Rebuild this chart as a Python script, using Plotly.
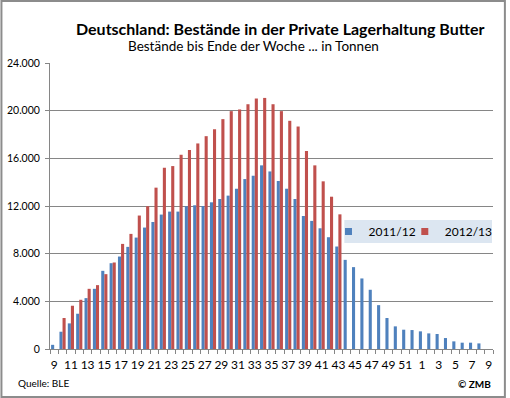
import plotly.graph_objects as go

weeks = [9, 10, 11, 12, 13, 14, 15, 16, 17, 18, 19, 20, 21, 22, 23, 24, 25, 26, 27, 28,
         29, 30, 31, 32, 33, 34, 35, 36, 37, 38, 39, 40, 41, 42, 43, 44, 45, 46, 47, 48,
         49, 50, 51, 52, 1, 2, 3, 4, 5, 6, 7, 8, 9]

s2011 = [350, 1450, 2150, 2960, 4270, 5050, 6560, 7200, 7760, 8570, 9350, 10190, 10660,
         11280, 11530, 11530, 11980, 12060, 12000, 12310, 12590, 12870, 13450, 14260,
         14540, 15410, 14900, 14100, 13450, 12590, 11160, 10750, 10130, 9380, 8600,
         7480, 6870, 5920, 4970, 3680, 2600, 1900, 1620, 1590, 1480, 1310, 1260, 920,
         640, 530, 530, 470, None]

s2012 = [None, 2600, 3630, 4130, 5050, 5360, 6280, 7260, 8820, 9660, 11200, 11980, 13540,
         15210, 15350, 16300, 16690, 17250, 17860, 18450, 19290, 19960, 20100, 20540,
         21020, 21070, 20540, 19960, 19150, 18670, 16610, 15410, 14070, 12780, 11300] + [None] * 18

series_names = ["2011/12", "2012/13"]
series_colors = ["#4F81BD", "#C0504D"]
yticks = [0, 4000, 8000, 12000, 16000, 20000, 24000]
ytick_text = ["0", "4.000", "8.000", "12.000", "16.000", "20.000", "24.000"]

idx = list(range(len(weeks)))
font = "Lato, 'Open Sans', sans-serif"

W, H = 510, 398
ML, MR, MT, MB = 50, 13, 63, 49
pw = W - ML - MR
ph = H - MT - MB


def px(x):
    return (x - ML) / pw


def py(y):
    return (H - MB - y) / ph


fig = go.Figure()
for vals, name, col in zip([s2011, s2012], series_names, series_colors):
    fig.add_trace(go.Bar(x=idx, y=vals, name=name, marker_color=col,
                         marker_line_width=0, showlegend=False))
# legend-only entries with small square symbols, one legend per entry
legend_ids = ["legend", "legend2"]
for name, col, lid in zip(series_names, series_colors, legend_ids):
    fig.add_trace(go.Scatter(x=[None], y=[None], mode="markers", name=name,
                             legend=lid,
                             marker=dict(symbol="square", size=7, color=col)))

leg_common = dict(orientation="h", yanchor="middle", xanchor="left",
                  bgcolor="rgba(0,0,0,0)", font=dict(size=12, family=font),
                  itemwidth=30, borderwidth=0)

fig.update_layout(
    width=W, height=H, autosize=False,
    margin=dict(l=ML, r=MR, t=MT, b=MB, pad=0),
    paper_bgcolor="white", plot_bgcolor="white",
    barmode="group", bargap=0.26, bargroupgap=0.0,
    font=dict(family=font, color="#000000", size=11),
    showlegend=True,
    legend=dict(x=px(331), y=py(231.5), **leg_common),
    legend2=dict(x=px(408), y=py(231.5), **leg_common),
    xaxis=dict(range=[-0.5, len(weeks) - 0.5], tickmode="array",
               tickvals=idx[::2], ticktext=[str(w) for w in weeks[::2]],
               tickangle=0, automargin=False, ticklabelstandoff=5,
               ticks="", showgrid=False, showline=True, linecolor="#868686",
               linewidth=1, tickfont=dict(size=12, family=font), zeroline=False,
               minor=dict(tickmode="linear", tick0=-0.5, dtick=1, ticks="outside",
                          ticklen=4, tickcolor="#868686", showgrid=False)),
    yaxis=dict(range=[0, 24000], tickmode="array", tickvals=yticks, ticktext=ytick_text,
               automargin=False, ticklabelstandoff=3,
               showgrid=True, gridcolor="#868686", gridwidth=1,
               showline=True, linecolor="#868686", linewidth=1,
               ticks="outside", ticklen=4, tickcolor="#868686",
               tickfont=dict(size=10.5, family=font), zeroline=False),
)

# legend background box
fig.add_shape(type="rect", xref="paper", yref="paper",
              x0=px(347), x1=px(496), y0=py(243), y1=py(220),
              fillcolor="#DCE6F1", line=dict(width=0), layer="above")

fig.add_annotation(text="<b>Deutschland: Bestände in der Private Lagerhaltung Butter</b>",
                   xref="paper", yref="paper", x=px(283), y=py(28),
                   xanchor="center", yanchor="middle", showarrow=False,
                   font=dict(size=16, family=font))
fig.add_annotation(text="Bestände bis Ende der Woche ... in Tonnen",
                   xref="paper", yref="paper", x=px(255), y=py(46),
                   xanchor="center", yanchor="middle", showarrow=False,
                   font=dict(size=13.5, family=font))
fig.add_annotation(text="Quelle: BLE",
                   xref="paper", yref="paper", x=px(16), y=py(383),
                   xanchor="left", yanchor="middle", showarrow=False,
                   font=dict(size=10, family=font))
fig.add_annotation(text="<b>© ZMB</b>",
                   xref="paper", yref="paper", x=px(497), y=py(384),
                   xanchor="right", yanchor="middle", showarrow=False,
                   font=dict(size=10, family=font))

fig.add_shape(type="rect", xref="paper", yref="paper",
              x0=px(1), x1=px(509), y0=py(397), y1=py(1),
              line=dict(color="#8c8c8c", width=2))

fig.write_html("out.html", config={"displayModeBar": False},
               post_script="document.body.style.margin='0';")
